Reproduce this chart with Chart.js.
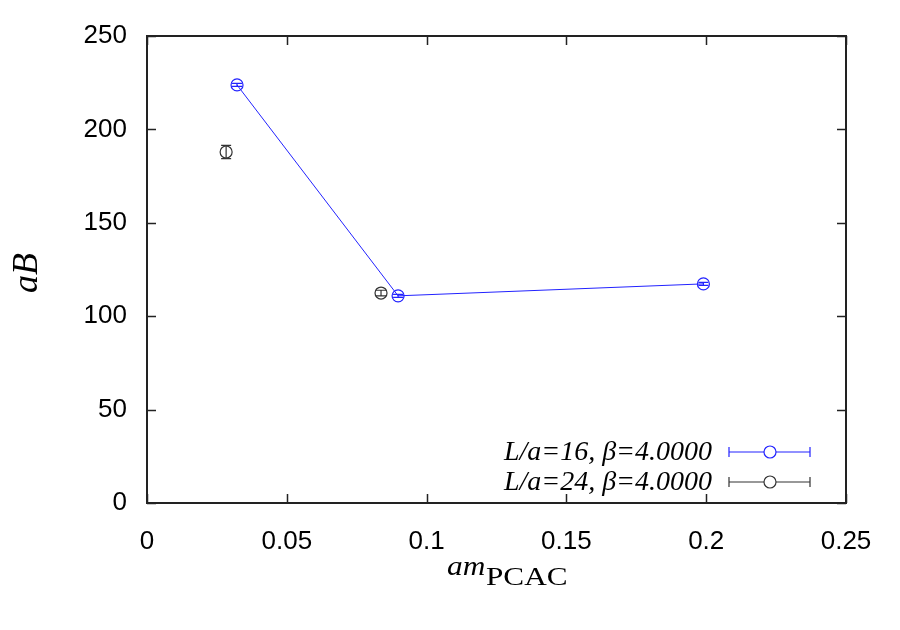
<!DOCTYPE html>
<html><head><meta charset="utf-8">
<script src="https://cdn.jsdelivr.net/npm/chart.js@4/dist/chart.umd.min.js"></script>
<style>html,body{margin:0;padding:0;background:#fff}#wrap{width:900px;height:630px}</style>
</head><body><div id="wrap"><canvas id="c" width="900" height="630"></canvas></div>
<script>
const seriesLabels = ['L/a=16, \u03B2=4.0000', 'L/a=24, \u03B2=4.0000'];
const x16 = [0.0322, 0.0898, 0.199];
const y16 = [223.8, 110.9, 117.3];
const e16 = [0.8, 0.8, 0.8];
const x24 = [0.0283, 0.0837];
const y24 = [187.9, 112.4];
const e24 = [3.5, 1.5];
const xTicks = [0, 0.05, 0.1, 0.15, 0.2, 0.25];
const yTicks = [0, 50, 100, 150, 200, 250];
const colors = ['#2222ff', '#333333'];

const pts = (xs, ys, es) => xs.map((x, i) => ({x: x, y: ys[i], e: es[i]}));

const decor = {
  id: 'decor',
  afterDatasetsDraw(chart) {
    const ctx = chart.ctx, a = chart.chartArea;
    const xs = chart.scales.x, ys = chart.scales.y;
    ctx.save();
    // error bars
    chart.data.datasets.forEach((ds, di) => {
      ctx.strokeStyle = ds.borderColor; ctx.lineWidth = 1.2;
      ds.data.forEach(p => {
        const px = xs.getPixelForValue(p.x);
        const y1 = ys.getPixelForValue(p.y - p.e), y2 = ys.getPixelForValue(p.y + p.e);
        ctx.beginPath();
        ctx.moveTo(px, y1); ctx.lineTo(px, y2);
        ctx.moveTo(px - 5, y1); ctx.lineTo(px + 5, y1);
        ctx.moveTo(px - 5, y2); ctx.lineTo(px + 5, y2);
        ctx.stroke();
      });
    });
    // ticks inward + mirror
    ctx.strokeStyle = '#222'; ctx.lineWidth = 1.5;
    const tl = 9;
    xTicks.forEach(v => {
      const px = Math.round(xs.getPixelForValue(v)) + 0.5;
      ctx.beginPath();
      ctx.moveTo(px, a.bottom); ctx.lineTo(px, a.bottom - tl);
      ctx.moveTo(px, a.top); ctx.lineTo(px, a.top + tl);
      ctx.stroke();
    });
    yTicks.forEach(v => {
      const py = Math.round(ys.getPixelForValue(v)) + 0.5;
      ctx.beginPath();
      ctx.moveTo(a.left, py); ctx.lineTo(a.left + tl, py);
      ctx.moveTo(a.right, py); ctx.lineTo(a.right - tl, py);
      ctx.stroke();
    });
    // border
    ctx.lineWidth = 2; ctx.strokeStyle = '#222';
    ctx.strokeRect(a.left, a.top, a.right - a.left, a.bottom - a.top);
    // legend
    const rows = [452, 482];
    ctx.font = 'italic 28px "Liberation Serif"';
    ctx.textAlign = 'right'; ctx.textBaseline = 'middle';
    seriesLabels.forEach((lab, i) => {
      const y = rows[i];
      ctx.fillStyle = '#000';
      ctx.fillText(lab, 712, y + 1);
      ctx.strokeStyle = colors[i]; ctx.lineWidth = 1.2;
      ctx.beginPath();
      ctx.moveTo(729, y); ctx.lineTo(764, y);
      ctx.moveTo(776, y); ctx.lineTo(810, y);
      ctx.moveTo(729, y - 5); ctx.lineTo(729, y + 5);
      ctx.moveTo(810, y - 5); ctx.lineTo(810, y + 5);
      ctx.stroke();
      ctx.beginPath(); ctx.arc(770, y, 6, 0, Math.PI * 2); ctx.stroke();
    });
    // axis titles
    ctx.fillStyle = '#000';
    ctx.save();
    ctx.translate(37, 273); ctx.rotate(-Math.PI / 2);
    ctx.textAlign = 'center'; ctx.textBaseline = 'alphabetic';
    ctx.font = 'italic 36px "Liberation Serif"';
    ctx.fillText('aB', 0, 0);
    ctx.restore();
    ctx.textAlign = 'left'; ctx.textBaseline = 'alphabetic';
    ctx.save();
    ctx.translate(447, 575); ctx.scale(1.12, 1);
    ctx.font = 'italic 28px "Liberation Serif"';
    ctx.fillText('am', 0, 0);
    ctx.restore();
    ctx.save();
    ctx.translate(486, 585); ctx.scale(1.2, 1);
    ctx.font = '26px "Liberation Serif"';
    ctx.fillText('PCAC', 0, 0);
    ctx.restore();
    ctx.restore();
  }
};

new Chart(document.getElementById('c'), {
  type: 'scatter',
  data: {
    datasets: [
      {label: seriesLabels[0], data: pts(x16, y16, e16), showLine: true, borderColor: colors[0],
       backgroundColor: 'rgba(0,0,0,0)', borderWidth: 1, pointRadius: 6, pointBorderWidth: 1.2,
       pointBorderColor: colors[0], pointBackgroundColor: 'rgba(0,0,0,0)'},
      {label: seriesLabels[1], data: pts(x24, y24, e24), showLine: false, borderColor: colors[1],
       backgroundColor: 'rgba(0,0,0,0)', pointRadius: 6, pointBorderWidth: 1.2,
       pointBorderColor: colors[1], pointBackgroundColor: 'rgba(0,0,0,0)'}
    ]
  },
  options: {
    responsive: false, animation: false, devicePixelRatio: 1,
    layout: {padding: {left: 0, top: 36, right: 54, bottom: 0}},
    plugins: {legend: {display: false}, tooltip: {enabled: false}},
    scales: {
      x: {type: 'linear', min: 0, max: 0.25,
          afterFit: s => { s.height = 127; },
          afterBuildTicks: s => { s.ticks = xTicks.map(v => ({value: v})); },
          grid: {display: false, drawTicks: false}, border: {display: false},
          ticks: {padding: 23, color: '#000', font: {family: 'Liberation Sans', size: 26},
                  callback: v => String(+(+v).toFixed(2))}},
      y: {type: 'linear', min: 0, max: 250,
          afterFit: s => { s.width = 147; },
          afterBuildTicks: s => { s.ticks = yTicks.map(v => ({value: v})); },
          grid: {display: false, drawTicks: false}, border: {display: false},
          ticks: {padding: 20, color: '#000', font: {family: 'Liberation Sans', size: 26}}}
    }
  },
  plugins: [decor]
});
</script></body></html>
